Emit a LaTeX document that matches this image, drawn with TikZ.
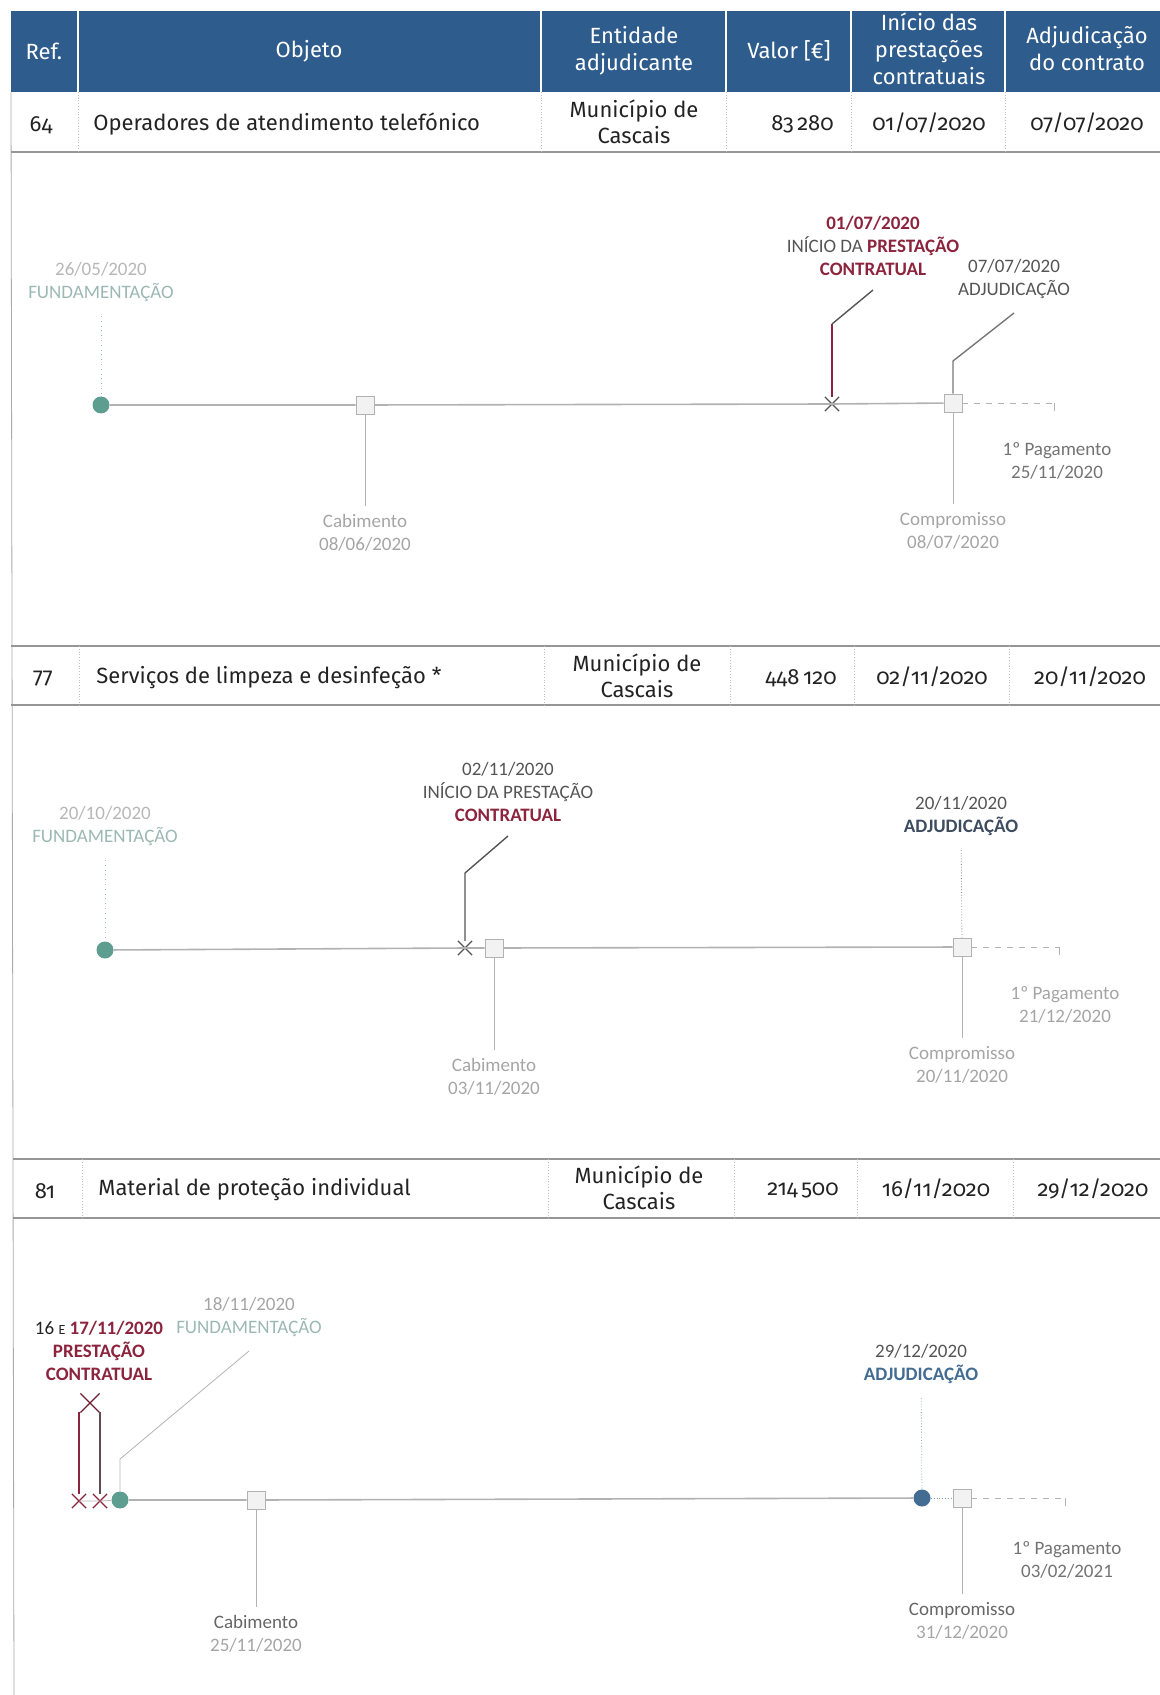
\documentclass[tikz,border=0pt]{standalone}
\usepackage{fontspec}
\setmainfont{Carlito}
\newfontfamily\tabfont[Numbers=OldStyle]{Fira Sans}
\usetikzlibrary{shapes.misc}
\definecolor{headblue}{RGB}{46,92,140}
\definecolor{tealdot}{RGB}{94,158,144}
\definecolor{adjblue}{RGB}{66,108,146}
\definecolor{adjslate}{RGB}{62,76,96}
\definecolor{prred}{RGB}{140,36,62}
\definecolor{rulegrey}{RGB}{150,150,150}
\definecolor{tline}{RGB}{178,178,178}
\definecolor{faint}{RGB}{165,165,165}
\definecolor{fteal}{RGB}{155,184,178}
\definecolor{ink}{RGB}{35,35,35}
\definecolor{midgrey}{RGB}{85,85,85}
\newcommand\prb[1]{\textcolor{prred}{\textbf{#1}}}

\begin{document}
\begin{tikzpicture}[x=.5pt,y=-.5pt,
  evdot/.style={circle,inner sep=0pt,minimum size=8.5pt},
  evbox/.style={draw=tline,fill=black!5,inner sep=0pt,minimum size=9pt},
  evcross/.style={cross out,draw,inner sep=0pt,minimum size=6.5pt,line width=.6pt},
  lab/.style={align=center,font=\fontsize{9.5}{11.5}\selectfont,inner sep=1pt},
  cell/.style={font=\tabfont\fontsize{11}{13}\selectfont,text=ink,align=center,inner sep=1pt},
  hcell/.style={font=\tabfont\fontsize{11}{13.5}\selectfont,text=white,align=center,inner sep=1pt}]
\useasboundingbox (0,0) rectangle (1160,1695);

\fill[headblue] (11,11) rectangle (1160,92);
\draw[white,line width=.6pt] (78,11) -- (78,92) (541,11) -- (541,92) (726,11) -- (726,92) (851,11) -- (851,92) (1005,11) -- (1005,92);
\node[hcell] (h1) at (44,51) {Ref.}; \node[hcell] (h2) at (309,51) {Objeto};
\node[hcell] (h3) at (634,51) {Entidade\\adjudicante}; \node[hcell] (h4) at (789,51) {Valor [€]};
\node[hcell] (h5) at (929,49) {Início das\\prestações\\contratuais}; \node[hcell] (h6) at (1087,49) {Adjudicação\\do contrato};
\draw[rulegrey!80] (11,92) -- (14,1695);

\draw[rulegrey,line width=.8pt] (11,152) -- (1160,152);
\draw[rulegrey!60,densely dotted] (78,92) -- (78,151) (541,92) -- (541,151) (726,92) -- (726,151) (851,92) -- (851,151) (1005,92) -- (1005,151);
\node[cell] (r1a) at (41,125) {64}; \node[cell,anchor=west] (r1b) at (91,124) {Operadores de atendimento telefónico};
\node[cell] (r1c) at (634,122) {Município de\\Cascais}; \node[cell,anchor=east] (r1d) at (836,124) {83\,280};
\node[cell] (r1e) at (929,123) {01/07/2020}; \node[cell] (r1f) at (1087,123) {07/07/2020};

\node[evdot,fill=tealdot] (fa) at (101,405) {};
\node[evbox] (ca) at (365,405) {};
\node[evcross,draw=midgrey] (xa) at (832,404) {};
\node[evbox] (sa) at (953,403) {};
\coordinate (pa) at (1054,403);
\draw[tline,line width=.8pt] (fa) -- (ca) -- (xa.center) -- (sa);
\draw[tline,dashed] (sa) -- (pa); \draw[tline] (pa) -- ++(0,8);
\node[lab,text=fteal] (fal) at (101,282) {\textcolor{faint!80}{26/05/2020}\\FUNDAMENTAÇÃO};
\draw[fteal,dotted,shorten <=6pt] (fal) -- (fa);
\node[lab,text=faint] (cal) at (365,533) {Cabimento\\08/06/2020};
\draw[tline,shorten >=3pt] (ca) -- (cal);
\node[lab,text=midgrey] (xal) at (873,246) {\prb{01/07/2020}\\INÍCIO DA \prb{PRESTAÇÃO}\\\prb{CONTRATUAL}};
\coordinate (xa1) at (832,324); \coordinate (xa2) at (873,290);
\draw[prred,line width=.7pt] (xa.north) -- (xa1); \draw[midgrey,line width=.7pt] (xa1) -- (xa2);
\node[lab,text=midgrey] (sal) at (1014,279) {07/07/2020\\ADJUDICAÇÃO};
\coordinate (sa1) at (953,361); \coordinate (sa2) at (1014,313);
\draw[midgrey!80,line width=.7pt] (sa) -- (sa1) -- (sa2);
\node[lab,text=faint] (kal) at (953,531) {Compromisso\\08/07/2020};
\draw[tline,shorten >=3pt] (sa) -- (kal);
\node[lab,text=black!55] (pal) at (1057,461) {1º Pagamento\\25/11/2020};

\draw[rulegrey,line width=.8pt] (11,646) -- (1160,646) (11,705) -- (1160,705);
\draw[rulegrey!60,densely dotted] (79,646) -- (79,705) (544,646) -- (544,705) (730,646) -- (730,705) (854,646) -- (854,705) (1009,646) -- (1009,705);
\node[cell] (r2a) at (43,679) {77}; \node[cell,anchor=west] (r2b) at (94,678) {Serviços de limpeza e desinfeção *};
\node[cell] (r2c) at (637,676) {Município de\\Cascais}; \node[cell,anchor=east] (r2d) at (839,678) {448\,120};
\node[cell] (r2e) at (932,677) {02/11/2020}; \node[cell] (r2f) at (1090,677) {20/11/2020};

\node[evdot,fill=tealdot] (fb) at (105,950) {};
\node[evcross,draw=midgrey] (xb) at (465,948) {};
\node[evbox] (cb) at (494,948) {};
\node[evbox] (sb) at (962,947) {};
\coordinate (pb) at (1059,947);
\draw[tline,line width=.8pt] (fb) -- (xb.center) -- (cb) -- (sb);
\draw[tline,dashed] (sb) -- (pb); \draw[tline] (pb) -- ++(0,8);
\node[lab,text=fteal] (fbl) at (105,826) {\textcolor{faint!80}{20/10/2020}\\FUNDAMENTAÇÃO};
\draw[fteal,dotted,shorten <=6pt] (fbl) -- (fb);
\node[lab,text=midgrey] (xbl) at (508,792) {02/11/2020\\INÍCIO DA PRESTAÇÃO\\\prb{CONTRATUAL}};
\coordinate (xb1) at (465,873); \coordinate (xb2) at (508,836);
\draw[midgrey,line width=.7pt] (xb.north) -- (xb1) -- (xb2);
\node[lab,text=faint] (cbl) at (494,1077) {Cabimento\\03/11/2020};
\draw[tline,shorten >=3pt] (cb) -- (cbl);
\node[lab,text=midgrey] (sbl) at (961,816) {20/11/2020\\\textcolor{adjslate}{\textbf{ADJUDICAÇÃO}}};
\draw[midgrey!70,densely dotted,shorten <=6pt] (sbl) -- (sb);
\node[lab,text=faint] (kbl) at (962,1065) {Compromisso\\20/11/2020};
\draw[tline,shorten >=3pt] (sb) -- (kbl);
\node[lab,text=faint] (pbl) at (1065,1005) {1º Pagamento\\21/12/2020};

\draw[rulegrey,line width=.8pt] (13,1159) -- (1160,1159) (13,1218) -- (1160,1218);
\draw[rulegrey!60,densely dotted] (82,1159) -- (82,1218) (548,1159) -- (548,1218) (734,1159) -- (734,1218) (857,1159) -- (857,1218) (1013,1159) -- (1013,1218);
\node[cell] (r3a) at (45,1191) {81}; \node[cell,anchor=west] (r3b) at (96,1190) {Material de proteção individual};
\node[cell] (r3c) at (639,1188) {Município de\\Cascais}; \node[cell,anchor=east] (r3d) at (841,1190) {214\,500};
\node[cell] (r3e) at (936,1189) {16/11/2020}; \node[cell] (r3f) at (1093,1189) {29/12/2020};

\node[evcross,draw=prred] (xc1) at (79,1501) {};
\node[evcross,draw=prred] (xc2) at (100,1501) {};
\node[evcross,draw=prred!80!black,minimum size=9pt] (xc3) at (90,1403) {};
\node[evdot,fill=tealdot] (fc) at (120,1500) {};
\node[evbox] (cc) at (256,1500) {};
\node[evdot,fill=adjblue] (ad) at (922,1498) {};
\node[evbox] (sc) at (962,1498) {};
\coordinate (pc) at (1065,1498);
\draw[tline] (xc1.center) -- (xc2.center) -- (fc);
\draw[tline,line width=.8pt] (fc) -- (cc) -- (ad);
\draw[adjblue!70,densely dotted] (ad) -- (sc);
\draw[tline,dashed] (sc) -- (pc); \draw[tline] (pc) -- ++(0,8);
\draw[prred,line width=.7pt] (xc1.north) -- (xc1.north |- xc3.south west) -- (xc3.south west);
\draw[midgrey!80!prred,line width=.7pt] (xc2.north) -- (xc2.north |- xc3.south east) -- (xc3.south east);
\node[lab,text=ink] (xcl) at (99,1351) {16 {\scriptsize E} \prb{17/11/2020}\\\prb{PRESTAÇÃO}\\\prb{CONTRATUAL}};
\node[lab,text=fteal] (fcl) at (249,1317) {\textcolor{faint}{18/11/2020}\\FUNDAMENTAÇÃO};
\coordinate (fc1) at (120,1459); \coordinate (fc2) at (249,1351);
\draw[tline] (fc) -- (fc1) -- (fc2);
\node[lab,text=black!60] (ccl) at (256,1634) {Cabimento\\\textcolor{faint}{25/11/2020}};
\draw[tline,shorten >=3pt] (cc) -- (ccl);
\node[lab,text=midgrey] (adl) at (921,1364) {29/12/2020\\\textcolor{adjblue}{\textbf{ADJUDICAÇÃO}}};
\draw[adjblue!60,densely dotted,shorten <=6pt] (adl) -- (ad);
\node[lab,text=black!60] (kcl) at (962,1621) {Compromisso\\\textcolor{faint}{31/12/2020}};
\draw[tline,shorten >=3pt] (sc) -- (kcl);
\node[lab,text=black!55] (pcl) at (1067,1560) {1º Pagamento\\03/02/2021};
\end{tikzpicture}
\end{document}
